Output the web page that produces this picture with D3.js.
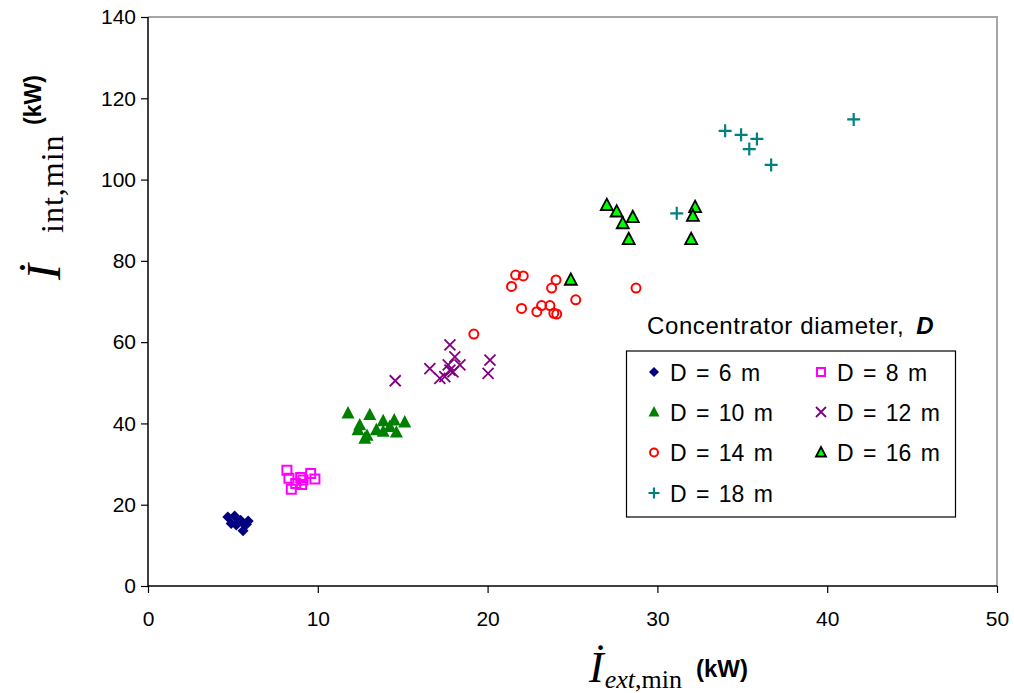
<!DOCTYPE html>
<html>
<head>
<meta charset="utf-8">
<script src="https://cdn.jsdelivr.net/npm/d3@7"></script>
<style>
  html, body { margin: 0; padding: 0; background: #fff; }
  svg { display: block; }
</style>
</head>
<body>
<svg id="chart" width="1014" height="693"></svg>
<script>
// Minimum exergy input: external vs internal (kW), one series per concentrator diameter
const xTicks = [0, 10, 20, 30, 40, 50];
const yTicks = [0, 20, 40, 60, 80, 100, 120, 140];

const seriesNames = ["D = 6 m", "D = 8 m", "D = 10 m", "D = 12 m", "D = 14 m", "D = 16 m", "D = 18 m"];

// [I_ext,min, I_int,min] pairs
const d6 = [[4.7, 17.0], [5.1, 17.2], [5.45, 16.2], [5.9, 16.0], [4.9, 15.4], [5.2, 15.0], [5.6, 13.6], [5.5, 15.8], [5.8, 15.2]];
const d8 = [[8.18, 28.5], [8.3, 26.5], [8.99, 26.7], [9.58, 27.7], [9.83, 26.3], [8.44, 23.8], [9.05, 25.0], [9.13, 26.1], [8.7, 25.2]];
const d10 = [[11.78, 42.5], [13.06, 42.1], [12.47, 39.6], [13.85, 40.6], [14.5, 40.8], [15.12, 40.3], [13.45, 38.4], [13.85, 38.0], [12.77, 36.3], [14.63, 37.8], [12.37, 38.4], [14.24, 39.2], [12.9, 37.0]];
const d12 = [[14.56, 50.5], [16.6, 53.5], [17.78, 59.3], [18.07, 56.4], [18.37, 54.4], [20.14, 55.6], [20.03, 52.3], [17.19, 51.1], [17.48, 51.5], [17.78, 53.1], [17.96, 52.7], [17.68, 54.4]];
const d14 = [[21.65, 76.5], [22.1, 76.3], [21.41, 73.7], [24.03, 75.3], [23.77, 73.3], [22.0, 68.3], [22.9, 67.5], [23.18, 69.0], [23.67, 69.0], [23.9, 67.1], [24.07, 66.9], [25.19, 70.4], [28.74, 73.3], [19.19, 62.0]];
const d16 = [[24.9, 75.3], [27.02, 93.7], [27.6, 92.1], [28.55, 90.7], [27.96, 89.2], [28.31, 85.3], [32.22, 93.2], [32.09, 91.0], [31.99, 85.3]];
const d18 = [[31.14, 91.7], [33.99, 112.0], [34.93, 111.0], [35.86, 110.0], [35.41, 107.5], [36.7, 103.6], [41.56, 114.8]];

const svg = d3.select("#chart");
const plotLeft = 148, plotRight = 997, plotTop = 17, plotBottom = 586;

const x = d3.scaleLinear().domain([0, 50]).range([plotLeft, plotRight]);
const y = d3.scaleLinear().domain([0, 140]).range([plotBottom, plotTop]);

// Marker shape paths, centred on the origin; s = nominal size in px
const shapes = {
  diamond: s => `M0,${-s / 2}L${s / 2},0L0,${s / 2}L${-s / 2},0Z`,
  square: s => `M${-s / 2},${-s / 2}h${s}v${s}h${-s}Z`,
  triangle: s => `M0,${-s * 0.55}L${s / 2},${s * 0.4}L${-s / 2},${s * 0.4}Z`,
  circle: s => `M${s / 2},0A${s / 2},${s / 2} 0 1,1 ${-s / 2},0A${s / 2},${s / 2} 0 1,1 ${s / 2},0Z`,
  cross: s => `M${-s / 2},${-s / 2}L${s / 2},${s / 2}M${s / 2},${-s / 2}L${-s / 2},${s / 2}`,
  plus: s => `M${-s / 2},0H${s / 2}M0,${-s / 2}V${s / 2}`
};

const series = [
  { name: seriesNames[0], data: d6, shape: "diamond", size: 11, lsize: 10, fill: "#000080", stroke: "none", sw: 0 },
  { name: seriesNames[1], data: d8, shape: "square", size: 9, lsize: 8, fill: "none", stroke: "#ff00ff", sw: 2 },
  { name: seriesNames[2], data: d10, shape: "triangle", size: 13, lsize: 11, fill: "#008000", stroke: "none", sw: 0 },
  { name: seriesNames[3], data: d12, shape: "cross", size: 11, lsize: 10, fill: "none", stroke: "#800080", sw: 1.8 },
  { name: seriesNames[4], data: d14, shape: "circle", size: 9, lsize: 8, fill: "none", stroke: "#ff0000", sw: 2 },
  { name: seriesNames[5], data: d16, shape: "triangle", size: 12, lsize: 10, fill: "#00ff00", stroke: "#000", sw: 1.8 },
  { name: seriesNames[6], data: d18, shape: "plus", size: 13, lsize: 11, fill: "none", stroke: "#008080", sw: 2.2 }
];

// Plot frame (grey top/right edges)
svg.append("path")
  .attr("d", `M${plotLeft},${plotTop}H${plotRight}V${plotBottom}`)
  .attr("fill", "none").attr("stroke", "#a6a6a6").attr("stroke-width", 2);

// Axes
const fontAxis = "'Liberation Sans', Arial, sans-serif";
const yAxis = svg.append("g")
  .attr("transform", `translate(${plotLeft},0)`)
  .call(d3.axisLeft(y).tickValues(yTicks).tickSize(7).tickPadding(5).tickFormat(d3.format("d")));
const xAxis = svg.append("g")
  .attr("transform", `translate(0,${plotBottom})`)
  .call(d3.axisBottom(x).tickValues(xTicks).tickSize(7).tickPadding(18).tickFormat(d3.format("d")));

[yAxis, xAxis].forEach(g => {
  g.select(".domain").attr("stroke", "#000").attr("stroke-width", 1.5);
  g.selectAll(".tick line").attr("stroke", "#000").attr("stroke-width", 1.2);
  g.selectAll(".tick text").attr("fill", "#000").style("font-family", fontAxis).style("font-size", "21px");
});
yAxis.select(".domain").attr("d", `M0,${plotBottom}V${plotTop}`);
xAxis.select(".domain").attr("d", `M${plotLeft},0H${plotRight}`);

// Data markers
series.forEach(s => {
  svg.append("g").selectAll("path")
    .data(s.data)
    .join("path")
    .attr("transform", d => `translate(${x(d[0])},${y(d[1])})`)
    .attr("d", shapes[s.shape](s.size))
    .attr("fill", s.fill)
    .attr("stroke", s.stroke)
    .attr("stroke-width", s.sw)
    .attr("stroke-linejoin", "miter");
});

// Legend
const legendTitle = svg.append("text")
  .attr("x", 647).attr("y", 334)
  .style("font-family", fontAxis).style("font-size", "24px")
  .style("letter-spacing", "0.6px");
legendTitle.append("tspan").text("Concentrator diameter,");
legendTitle.append("tspan").attr("dx", 12).style("font-weight", "bold").style("font-style", "italic").text("D");

svg.append("rect")
  .attr("x", 626.5).attr("y", 351).attr("width", 329).attr("height", 166)
  .attr("fill", "#fff").attr("stroke", "#000").attr("stroke-width", 1.2);

const legendCols = [654, 821];
const legendRows = [372, 412, 452.5, 493];
series.forEach((s, i) => {
  const cx = legendCols[i % 2], cy = legendRows[Math.floor(i / 2)];
  svg.append("path")
    .attr("transform", `translate(${cx},${cy})`)
    .attr("d", shapes[s.shape](s.lsize))
    .attr("fill", s.fill).attr("stroke", s.stroke).attr("stroke-width", s.sw);
  svg.append("text")
    .attr("x", cx + 16).attr("y", cy + 8.5)
    .style("font-family", fontAxis).style("font-size", "23px")
    .style("word-spacing", "3px")
    .text(s.name);
});

// Axis titles
const serif = "'Liberation Serif', 'Times New Roman', serif";
const xt = svg.append("text").attr("x", 589).attr("y", 682).style("font-family", serif).attr("fill", "#000");
xt.append("tspan").style("font-size", "44px").style("font-style", "italic").text("\u0130");
xt.append("tspan").attr("dx", 1).attr("dy", 6).style("font-size", "26px").style("font-style", "italic").text("ext");
xt.append("tspan").style("font-size", "26px").text(",min");
xt.append("tspan").attr("dx", 14).attr("dy", -11).style("font-size", "24px").style("font-family", fontAxis).style("font-weight", "bold").text("(kW)");

const yt = svg.append("text").attr("transform", "translate(60,280) rotate(-90)").style("font-family", serif).attr("fill", "#000");
yt.append("tspan").style("font-size", "48px").style("font-style", "italic").text("\u0130");
yt.append("tspan").attr("x", 47).attr("dy", 3).style("font-size", "32px").style("letter-spacing", "1px").text("int,min");
yt.append("tspan").attr("x", 155).attr("dy", -22).style("font-size", "23px").style("font-family", fontAxis).style("font-weight", "bold").text("(kW)");
</script>
</body>
</html>
